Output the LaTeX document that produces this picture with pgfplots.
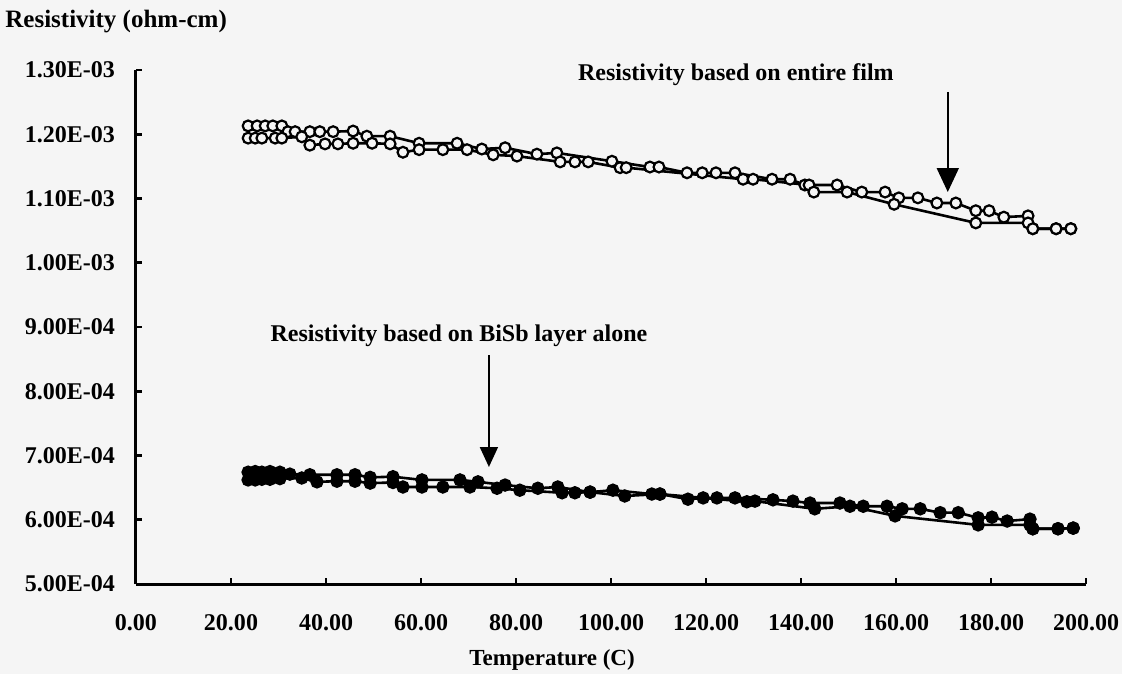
\documentclass[border=0pt]{standalone}
\usepackage{fontspec}
\setmainfont{Liberation Serif}
\usepackage{pgfplots}
\pgfplotsset{compat=1.18}
\usetikzlibrary{arrows.meta}
\definecolor{bg}{RGB}{245,245,245}
\begin{document}
\begin{tikzpicture}
\fill[bg] (-68pt,-45pt) rectangle (493pt,292pt);
\useasboundingbox (-68pt,-45pt) rectangle (493pt,292pt);
\begin{axis}[
  scale only axis, width=475pt, height=257pt,
  xmin=0, xmax=200, ymin=5e-4, ymax=1.3e-3,
  axis lines*=left,
  axis line style={line width=1.5pt},
  tick align=inside, major tick length=3pt,
  tick style={line width=1.3pt, black},
  xtick={0,20,40,60,80,100,120,140,160,180,200},
  xticklabels={0.00,20.00,40.00,60.00,80.00,100.00,120.00,140.00,160.00,180.00,200.00},
  ytick={5e-4,6e-4,7e-4,8e-4,9e-4,1e-3,1.1e-3,1.2e-3,1.3e-3},
  yticklabels={5.00E-04,6.00E-04,7.00E-04,8.00E-04,9.00E-04,1.00E-03,1.10E-03,1.20E-03,1.30E-03},
  scaled ticks=false,
  ticklabel style={font=\fontsize{12}{14}\selectfont\bfseries},
  xticklabel style={yshift=-11.5pt},
  yticklabel style={xshift=-7pt},
  clip=false,
]
% entire film, branch A
\addplot[black, line width=1.3pt, mark=*, mark size=2.7pt, mark options={fill=bg, draw=black, line width=1.1pt}] coordinates {
(23.6,1.213e-3)(25.5,1.213e-3)(27.2,1.213e-3)(28.8,1.213e-3)(30.7,1.213e-3)
(32.0,1.204e-3)(33.5,1.204e-3)(36.6,1.204e-3)(38.7,1.204e-3)(41.5,1.204e-3)
(45.7,1.205e-3)(48.6,1.197e-3)(53.5,1.197e-3)(59.6,1.186e-3)(67.6,1.186e-3)
(72.8,1.177e-3)(77.7,1.179e-3)(84.4,1.169e-3)(88.6,1.171e-3)(100.2,1.158e-3)
(108.2,1.149e-3)(110.1,1.149e-3)(116.0,1.140e-3)(119.2,1.140e-3)(122.1,1.140e-3)
(126.1,1.140e-3)(133.9,1.130e-3)(137.7,1.130e-3)(140.8,1.121e-3)(147.6,1.121e-3)
(152.8,1.110e-3)(157.7,1.110e-3)(160.6,1.101e-3)(164.6,1.101e-3)(168.6,1.093e-3)
(172.6,1.093e-3)(176.8,1.081e-3)(179.6,1.081e-3)(182.7,1.071e-3)(187.8,1.073e-3)
(188.8,1.053e-3)(193.7,1.053e-3)(196.8,1.053e-3)
};
% entire film, branch B
\addplot[black, line width=1.3pt, mark=*, mark size=2.7pt, mark options={fill=bg, draw=black, line width=1.1pt}] coordinates {
(23.6,1.194e-3)(25.1,1.194e-3)(26.5,1.194e-3)(29.3,1.194e-3)(30.7,1.194e-3)
(34.9,1.196e-3)(36.6,1.183e-3)(39.8,1.185e-3)(42.5,1.185e-3)(45.7,1.186e-3)
(49.7,1.186e-3)(53.5,1.185e-3)(56.2,1.172e-3)(59.6,1.176e-3)(64.6,1.176e-3)
(69.7,1.176e-3)(75.2,1.168e-3)(80.2,1.166e-3)(89.3,1.157e-3)(92.4,1.157e-3)
(95.2,1.157e-3)(101.9,1.148e-3)(103.2,1.148e-3)(127.8,1.130e-3)(129.9,1.130e-3)
(141.7,1.121e-3)(142.7,1.110e-3)(149.7,1.110e-3)(159.6,1.091e-3)(176.8,1.062e-3)
(187.8,1.062e-3)(188.8,1.053e-3)(193.7,1.053e-3)(196.8,1.053e-3)
};
% BiSb layer, branch A
\addplot[black, line width=1.3pt, mark=*, mark size=2.7pt, mark options={fill=black}] coordinates {
(23.6,0.674e-3)(25.1,0.675e-3)(26.5,0.674e-3)(28.2,0.675e-3)(30.3,0.674e-3)
(32.4,0.671e-3)(36.6,0.670e-3)(42.3,0.670e-3)(46.1,0.670e-3)(49.3,0.666e-3)
(54.1,0.667e-3)(60.2,0.662e-3)(68.2,0.662e-3)(72.0,0.659e-3)(77.7,0.654e-3)
(84.6,0.649e-3)(88.8,0.651e-3)(95.6,0.643e-3)(100.4,0.646e-3)(108.6,0.640e-3)
(110.3,0.640e-3)(116.2,0.632e-3)(119.4,0.634e-3)(122.3,0.634e-3)(126.1,0.634e-3)
(134.1,0.631e-3)(138.3,0.629e-3)(141.9,0.626e-3)(148.2,0.626e-3)(153.1,0.621e-3)
(158.1,0.621e-3)(161.3,0.617e-3)(165.1,0.617e-3)(169.3,0.611e-3)(173.1,0.611e-3)
(177.3,0.603e-3)(180.2,0.604e-3)(183.4,0.598e-3)(188.2,0.601e-3)(188.8,0.586e-3)
(194.1,0.586e-3)(197.3,0.587e-3)
};
% BiSb layer, branch B
\addplot[black, line width=1.3pt, mark=*, mark size=2.7pt, mark options={fill=black}] coordinates {
(23.6,0.662e-3)(25.1,0.662e-3)(26.5,0.663e-3)(28.2,0.663e-3)(30.3,0.664e-3)
(34.9,0.665e-3)(38.1,0.659e-3)(42.3,0.660e-3)(46.1,0.660e-3)(49.3,0.657e-3)
(54.1,0.658e-3)(56.2,0.651e-3)(60.2,0.651e-3)(64.6,0.651e-3)(70.3,0.651e-3)
(76.0,0.649e-3)(80.8,0.646e-3)(89.7,0.642e-3)(92.4,0.642e-3)(95.6,0.643e-3)
(102.9,0.637e-3)(110.3,0.640e-3)(128.6,0.628e-3)(130.3,0.629e-3)(142.9,0.617e-3)
(150.3,0.621e-3)(159.8,0.606e-3)(177.3,0.592e-3)(188.2,0.592e-3)(188.8,0.586e-3)
(194.1,0.586e-3)(197.3,0.587e-3)
};
% annotations
\node[font=\fontsize{12}{14}\selectfont\bfseries] at (axis cs:126.3,1.2922e-3) {Resistivity based on entire film};
\draw[line width=0.9pt, -{Triangle[width=11pt,length=12pt]}] (axis cs:170.9,1.2658e-3) -- (axis cs:170.9,1.1101e-3);
\node[font=\fontsize{12}{14}\selectfont\bfseries] at (axis cs:68.0,0.886e-3) {Resistivity based on BiSb layer alone};
\draw[line width=0.9pt, -{Triangle[width=9pt,length=10pt]}] (axis cs:74.3,0.8564e-3) -- (axis cs:74.3,0.6821e-3);
\end{axis}
\node[font=\fontsize{12.5}{14}\selectfont\bfseries, anchor=west, inner sep=0pt] at (-65.5pt,281pt) {Resistivity (ohm-cm)};
\node[font=\fontsize{11.5}{13}\selectfont\bfseries] at (208pt,-38pt) {Temperature (C)};
\end{tikzpicture}
\end{document}
